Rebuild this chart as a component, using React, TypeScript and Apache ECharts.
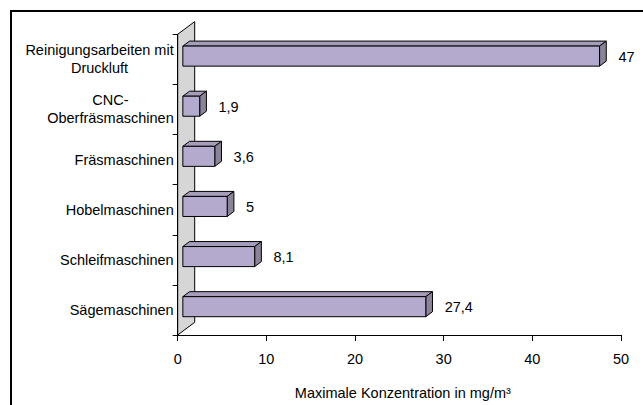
import React, { useEffect, useRef } from 'react';
import * as echarts from 'echarts';

// Data (top to bottom as shown)
const categories = [
  'Reinigungsarbeiten mit\nDruckluft',
  'CNC-\nOberfräsmaschinen',
  'Fräsmaschinen',
  'Hobelmaschinen',
  'Schleifmaschinen',
  'Sägemaschinen',
];
const values = [47, 1.9, 3.6, 5, 8.1, 27.4];
const xMin = 0;
const xMax = 50;
const xInterval = 10;
const axisName = 'Maximale Konzentration in mg/m³';

const FONT = '"Liberation Sans", Arial, Helvetica, sans-serif';
const FS = 14.5;

const FLOOR_DX = 17;
const FLOOR_DY = -12.7;
const BAR_DX = 6.7;
const BAR_DY = -5;

const FRONT = '#b4aacd';
const TOP = '#a59db9';
const SIDE = '#8b8499';
const WALL = '#d6d6d6';

const fmt = (v: number) => String(v).replace('.', ',');

let measureCtx: CanvasRenderingContext2D | null = null;
function textWidth(text: string): number {
  if (!measureCtx) {
    const c = document.createElement('canvas');
    measureCtx = c.getContext('2d');
  }
  if (!measureCtx) return text.length * 7;
  measureCtx.font = `${FS}px ${FONT}`;
  return measureCtx.measureText(text).width;
}

export default function App() {
  const ref = useRef<HTMLDivElement>(null);
  useEffect(() => {
    const chart = echarts.init(ref.current!, null, { renderer: 'svg' });
    const offX = (FLOOR_DX - BAR_DX) / 2;
    const offY = (FLOOR_DY - BAR_DY) / 2 + 0.6;
    // rich styles: each line right-aligned, padded so lines appear centred on the widest line
    const rich: Record<string, any> = {};
    categories.forEach((c, i) => {
      const lines = c.split('\n');
      const widths = lines.map(textWidth);
      const W = Math.max(...widths);
      lines.forEach((_, j) => {
        rich[`l${i}_${j}`] = {
          color: '#000',
          fontSize: FS,
          fontFamily: FONT,
          lineHeight: 18,
          padding: [0, (W - widths[j]) / 2, 0, 0],
        };
      });
    });
    chart.setOption({
      animation: false,
      backgroundColor: '#ffffff',
      graphic: [
        {
          type: 'rect',
          shape: { x: 11, y: 11, width: 800, height: 600 },
          style: { fill: 'none', stroke: '#000', lineWidth: 2 },
          z: 100,
        },
      ],
      grid: { left: 177.7, right: 22, top: 34.3, bottom: 69.3, containLabel: false },
      xAxis: {
        type: 'value',
        min: xMin,
        max: xMax,
        interval: xInterval,
        z: 10,
        axisLine: { show: true, lineStyle: { color: '#000', width: 1 } },
        axisTick: { show: true, length: 6, lineStyle: { color: '#000', width: 1 } },
        splitLine: { show: false },
        axisLabel: { color: '#000', fontSize: FS, fontFamily: FONT, margin: 16 },
        name: axisName,
        nameLocation: 'middle',
        nameGap: 50,
        nameTextStyle: { color: '#000', fontSize: FS, fontFamily: FONT, padding: [0, 0, 0, 7] },
      },
      yAxis: {
        type: 'category',
        data: categories,
        inverse: true,
        z: 10,
        axisLine: { show: true, lineStyle: { color: '#000', width: 1 } },
        axisTick: { show: true, length: 5, alignWithLabel: false, lineStyle: { color: '#000', width: 1 } },
        splitLine: { show: false },
        axisLabel: {
          margin: 4,
          align: 'right',
          color: '#000',
          fontSize: FS,
          fontFamily: FONT,
          lineHeight: 18,
          formatter: (v: string, i: number) =>
            v
              .split('\n')
              .map((l, j) => `{l${i}_${j}|${l}}`)
              .join('\n'),
          rich,
        },
      },
      series: [
        {
          type: 'custom',
          z: 1,
          silent: true,
          encode: { x: 0, y: 1 },
          data: [[0, 0]],
          renderItem: (params: any) => {
            const cs = params.coordSys;
            const x0 = cs.x;
            const y0 = cs.y;
            const y1 = cs.y + cs.height;
            return {
              type: 'polygon',
              shape: {
                points: [
                  [x0, y0],
                  [x0 + FLOOR_DX, y0 + FLOOR_DY],
                  [x0 + FLOOR_DX, y1 + FLOOR_DY],
                  [x0, y1],
                ],
              },
              style: { fill: WALL, stroke: '#000', lineWidth: 1 },
            };
          },
        },
        {
          type: 'custom',
          z: 5,
          encode: { x: 0, y: 1 },
          data: values.map((v, i) => [v, i]),
          renderItem: (params: any, api: any) => {
            const v = api.value(0) as number;
            const idx = api.value(1) as number;
            const p0 = api.coord([0, idx]);
            const p1 = api.coord([v, idx]);
            const band = (api.size([0, 1]) as number[])[1];
            const h = band * 0.4;
            const xl = p0[0] + offX;
            const xr = p1[0] + offX;
            const yt = p0[1] - h / 2 + offY;
            const yb = yt + h;
            const line = { stroke: '#000', lineWidth: 1, lineJoin: 'round' };
            return {
              type: 'group',
              children: [
                {
                  type: 'polygon',
                  shape: { points: [[xl, yt], [xl + BAR_DX, yt + BAR_DY], [xr + BAR_DX, yt + BAR_DY], [xr, yt]] },
                  style: { fill: TOP, ...line },
                },
                {
                  type: 'polygon',
                  shape: { points: [[xr, yt], [xr + BAR_DX, yt + BAR_DY], [xr + BAR_DX, yb + BAR_DY], [xr, yb]] },
                  style: { fill: SIDE, ...line },
                },
                {
                  type: 'rect',
                  shape: { x: xl, y: yt, width: xr - xl, height: h },
                  style: { fill: FRONT, ...line },
                },
                {
                  type: 'text',
                  style: {
                    text: fmt(v),
                    x: p1[0] + 24,
                    y: p1[1] - 2.5,
                    align: 'left',
                    verticalAlign: 'middle',
                    fill: '#000',
                    fontSize: FS,
                    fontFamily: FONT,
                  },
                },
              ],
            };
          },
        },
      ],
    });
    return () => chart.dispose();
  }, []);
  return <div ref={ref} style={{ position: 'fixed', left: 0, top: 0, width: 643, height: 405 }} />;
}
